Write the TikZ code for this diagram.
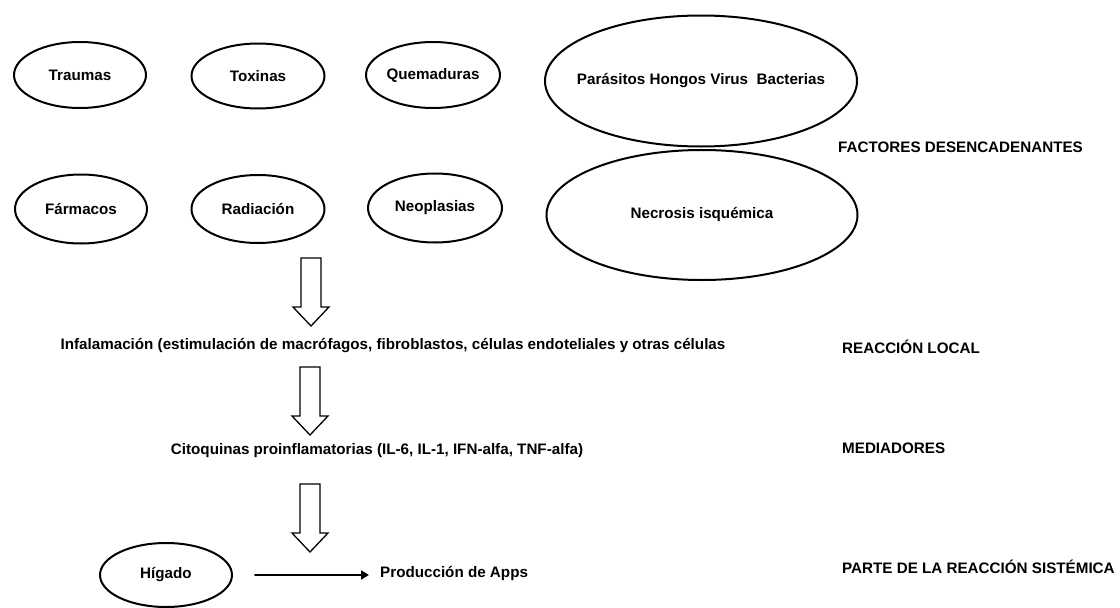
\documentclass[tikz,border=0pt]{standalone}
\usepackage{fontspec}
\setmainfont{Liberation Sans}
\usetikzlibrary{shapes.geometric,arrows.meta}
\tikzset{
	elipse/.style={draw,ellipse,line width=2pt,inner sep=0pt},
	rotulo/.style={anchor=west,inner sep=0pt},
	flecha/.style={line width=1.3pt,line join=miter}
}
\begin{document}
\begin{tikzpicture}[x=1pt,y=-1pt,line join=round,line cap=round,font=\fontsize{15.2}{18}\selectfont\bfseries]
		\useasboundingbox (0,0) rectangle (1120,608);
		\def\flecha(#1,#2){\draw[flecha] (#1-10,#2)--(#1+10,#2)--(#1+10,#2+49)--(#1+18,#2+49)--(#1,#2+68)--(#1-18,#2+49)--(#1-10,#2+49)--cycle;}
		% factores
		\node[elipse,minimum width=132pt,minimum height=66pt] (traumas) at (80,75) {Traumas};
		\node[elipse,minimum width=133pt,minimum height=65pt] (toxinas) at (258,76) {Toxinas};
		\node[elipse,minimum width=134pt,minimum height=66pt] (quemaduras) at (433,75) {Quemaduras};
		\node[elipse,minimum width=132pt,minimum height=69pt] (farmacos) at (81,209) {Fármacos};
		\node[elipse,minimum width=133pt,minimum height=68pt] (radiacion) at (258,209) {Radiación};
		\node[elipse,minimum width=134pt,minimum height=69pt] (neoplasias) at (435,208) {Neoplasias};
		\node[elipse,inner xsep=-20pt,minimum width=312pt,minimum height=131pt] (parasitos) at (701,81) {Parásitos Hongos Virus \ Bacterias};
		\node[elipse,minimum width=311pt,minimum height=130pt] (necrosis) at (702,215) {Necrosis isquémica};
		\node[rotulo] (factores) at (838,147) {FACTORES DESENCADENANTES};
		\flecha(311,258)
		% reaccion local
		\node (inflamacion) at (393,346) {Infalamación (estimulación de macrófagos, fibroblastos, células endoteliales y otras células};
		\node[rotulo] (local) at (842,347) {REACCIÓN LOCAL};
		\flecha(310,367)
		% mediadores
		\node (citoquinas) at (377,451) {Citoquinas proinflamatorias (IL-6, IL-1, IFN-alfa, TNF-alfa)};
		\node[rotulo] (mediadores) at (842,448) {MEDIADORES};
		\flecha(310,484)
		% reaccion sistemica
		\node[elipse,minimum width=132pt,minimum height=64pt] (higado) at (166,575) {Hígado};
		\node[rotulo] (apps) at (380,573) {Producción de Apps};
		\draw[line width=2pt,-{Triangle[length=8pt,width=9pt]},shorten <=22pt,shorten >=11pt] (higado.east)--(higado.east-|apps.west);
		\node[rotulo] (sistemica) at (842,567) {PARTE DE LA REACCIÓN SISTÉMICA};
\end{tikzpicture}
\end{document}
